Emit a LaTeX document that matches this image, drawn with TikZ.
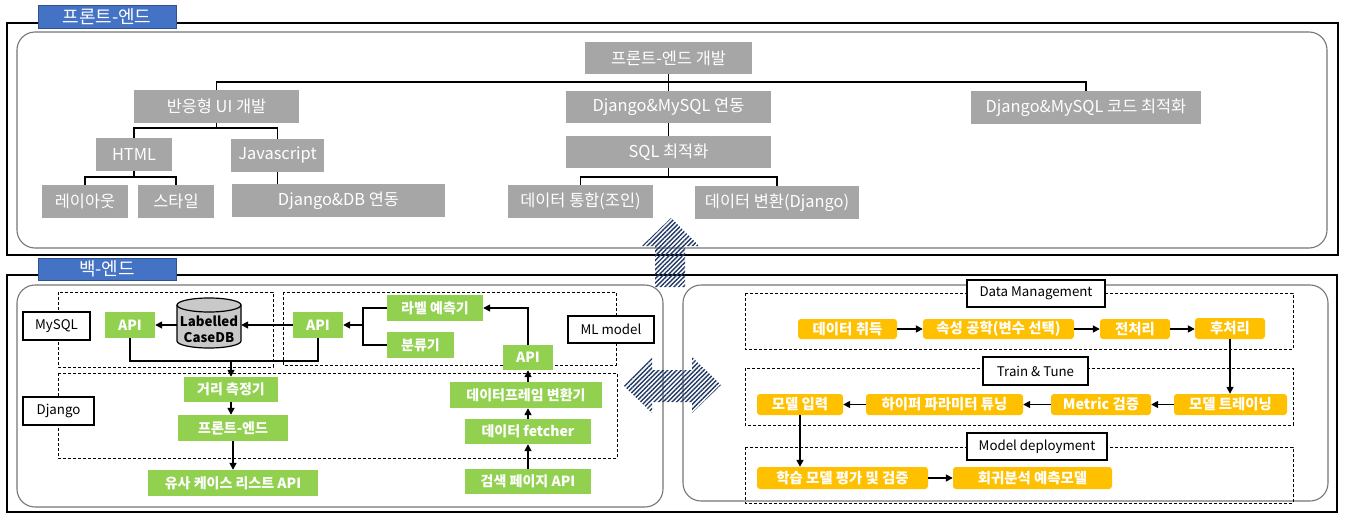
\documentclass[tikz,border=0pt]{standalone}
\usepackage{fontspec}
\setmainfont{Noto Sans CJK KR}
\usetikzlibrary{arrows.meta,patterns.meta}
\definecolor{cgray}{HTML}{A6A6A6}
\definecolor{cgreen}{HTML}{92D050}
\definecolor{corange}{HTML}{FFC000}
\definecolor{cblue}{HTML}{4472C4}
\definecolor{cblueE}{HTML}{2F528F}
\definecolor{cnavy}{HTML}{203864}
\definecolor{cdb}{HTML}{C9C9C9}
\definecolor{cpanel}{HTML}{767676}
\newcommand{\mkbox}[7]{\node[#6, minimum width={(#4)-(#2)}, minimum height={(#5)-(#3)}] (#1) at ({((#2)+(#4))/2},{((#3)+(#5))/2}) {#7};}
\begin{document}
\begin{tikzpicture}[x=1pt,y=-1pt,
  gbox/.style={fill=cgray, text=white, inner sep=0pt, font=\fontsize{16.4}{19}\selectfont},
  grn/.style={fill=cgreen, text=white, inner sep=0pt, font=\bfseries\fontsize{14}{16}\selectfont},
  org/.style={fill=corange, rounded corners=3pt, text=white, inner sep=0pt, font=\bfseries\fontsize{14.4}{16}\selectfont},
  lbl/.style={draw, line width=1.5pt, fill=white, inner sep=0pt, font=\fontsize{13.3}{16}\selectfont},
  tab/.style={fill=cblue, draw=cblueE, line width=1pt, text=white, inner sep=0pt, font=\fontsize{18}{21}\selectfont},
  conn/.style={line width=1.8pt},
  arr/.style={line width=1.6pt, -{Triangle[length=7pt,width=7pt]}},
  dsh/.style={line width=0.8pt, dash pattern=on 3pt off 2pt},
  panel/.style={draw=cpanel, line width=1.1pt, rounded corners=18pt},
  outer/.style={draw=black, line width=2.4pt},
  hatch/.style={pattern={Lines[angle=45,distance=3.2pt,line width=1.4pt]}, pattern color=cnavy}]
\fill[white] (0,0) rectangle (1347,522);
\useasboundingbox (0,0) rectangle (1347,522);

% panels
\draw[outer] (7,23) rectangle (1338,255);
\draw[panel] (17,32) rectangle (1327,248);
\draw[outer] (7,275) rectangle (1337,512);
\draw[panel] (17,285) rectangle (663,507);
\draw[panel] (683,285) rectangle (1328,501);

% top tree
\mkbox{dev}{585}{42}{752}{74}{gbox}{프론트-엔드 개발}
\mkbox{ui}{134}{90}{299}{123}{gbox}{반응형 UI 개발}
\mkbox{dm}{566}{91}{771}{123}{gbox}{Django\&MySQL 연동}
\mkbox{code}{971}{91}{1201}{124}{gbox}{Django\&MySQL 코드 최적화}
\mkbox{html}{96}{138}{172}{171}{gbox}{HTML}
\mkbox{js}{231}{139}{324}{172}{gbox}{Javascript}
\mkbox{lay}{42}{185}{128}{218}{gbox}{레이아웃}
\mkbox{sty}{138}{185}{214}{218}{gbox}{스타일}
\mkbox{djdb}{232}{184}{445}{217}{gbox}{Django\&DB 연동}
\mkbox{sql}{566}{136}{771}{168}{gbox}{SQL 최적화}
\mkbox{join}{508}{185}{653}{218}{gbox}{데이터 통합(조인)}
\mkbox{conv}{695}{186}{859}{219}{gbox}{데이터 변환(Django)}

\draw[conn] (ui.north) -- ++(0,-8) -| (code.north);
\draw[conn] (dev.south) -- (dev.south |- dm.north);
\draw[conn] (dm.south) -- (sql.north);
\draw[conn] (ui.south) -- ++(0,5);
\draw[conn] (html.north) -- ++(0,-10) -| (js.north);
\draw[conn] (html.south) -- ++(0,6);
\draw[conn] (lay.north) -- ++(0,-8) -| (sty.north);
\draw[conn] (js.south) -- (js.south |- djdb.north);
\draw[conn] (sql.south) -- ++(0,9);
\draw[conn] (join.north) -- ++(0,-8) -| (conv.north);

% bottom-left dashed groups
\draw[dsh] (58,292) rectangle (273,367);
\draw[dsh] (283,292) rectangle (616,365);
\draw[dsh] (58,373) rectangle (617,458);

% cylinder
\draw[fill=cdb, line width=1.2pt] (177,305) -- (177,341) arc[start angle=180, end angle=0, x radius=32, y radius=7] -- (241,305) arc[start angle=0, end angle=-180, x radius=32, y radius=7] -- cycle;
\draw[line width=1.2pt] (177,305) arc[start angle=180, end angle=0, x radius=32, y radius=7];
\node[minimum width=64, minimum height=50, inner sep=0pt] (db) at (209,325) {};
\node[align=center, inner sep=0pt, font=\bfseries\fontsize{13.3}{16}\selectfont] (dbt) at (209,329) {Labelled\\CaseDB};

\mkbox{apiL}{105}{312}{155}{338}{grn}{API}
\mkbox{apiR}{293}{312}{343}{338}{grn}{API}
\mkbox{lab}{387}{295}{483}{321}{grn}{라벨 예측기}
\mkbox{cls}{387}{332}{454}{358}{grn}{분류기}
\mkbox{apiM}{503}{345}{553}{370}{grn}{API}
\mkbox{dist}{184}{377}{278}{402}{grn}{거리 측정기}
\mkbox{fe}{178}{415}{288}{441}{grn}{프론트-엔드}
\mkbox{sim}{148}{470}{318}{496}{grn}{유사 케이스 리스트 API}
\mkbox{dfc}{450}{382}{602}{408}{grn}{데이터프레임 변환기}
\mkbox{fetch}{465}{419}{591}{444}{grn}{데이터 fetcher}
\mkbox{srch}{465}{469}{591}{494}{grn}{검색 페이지 API}

\mkbox{lmysql}{23}{312}{90}{340}{lbl}{MySQL}
\mkbox{ldj}{23}{397}{94}{425}{lbl}{Django}
\mkbox{lml}{568}{316}{654}{343}{lbl}{ML model}

\coordinate (brk) at (363,0);
\draw[arr] (db.west |- apiL.east) -- (apiL.east);
\draw[arr] (apiR.west) -- (db.east |- apiR.west);
\draw[conn] (lab.west) -- (lab.west -| brk) |- (cls.west);
\draw[arr] (apiR.east -| brk) -- (apiR.east);
\draw[arr] (apiM.north) |- (lab.east);
\draw[conn] (apiL.south) -- ++(0,23) -| (apiR.south);
\draw[arr] ([yshift=16pt]dist.north) -- (dist.north);
\draw[arr] (dist.south) -- (dist.south |- fe.north);
\draw[arr] (fe.south) -- (fe.south |- sim.north);
\draw[arr] (srch.north) -- (fetch.south);
\draw[arr] (fetch.north) -- (fetch.north |- dfc.south);
\draw[arr] (apiM.south |- dfc.north) -- (apiM.south);

% bottom-right
\draw[dsh] (745,293) rectangle (1293,349);
\draw[dsh] (745,368) rectangle (1293,425);
\draw[dsh] (745,447) rectangle (1293,503);
\mkbox{ldm}{967}{280}{1105}{307}{lbl}{Data Management}
\mkbox{ltt}{983}{357}{1088}{385}{lbl}{Train \& Tune}
\mkbox{lmd}{967}{433}{1107}{460}{lbl}{Model deployment}

\mkbox{acq}{798}{319}{897}{339}{org}{데이터 취득}
\mkbox{feat}{923}{319}{1074}{339}{org}{속성 공학(변수 선택)}
\mkbox{pre}{1100}{319}{1170}{339}{org}{전처리}
\mkbox{post}{1195}{318}{1265}{339}{org}{후처리}
\mkbox{train}{1174}{394}{1287}{415}{org}{모델 트레이닝}
\mkbox{metric}{1051}{394}{1151}{415}{org}{Metric 검증}
\mkbox{hyper}{866}{394}{1023}{415}{org}{하이퍼 파라미터 튜닝}
\mkbox{minp}{757}{394}{843}{415}{org}{모델 입력}
\mkbox{eval}{757}{467}{928}{489}{org}{학습 모델 평가 및 검증}
\mkbox{reg}{953}{467}{1112}{489}{org}{회귀분석 예측모델}

\draw[arr] (acq.east) -- (acq.east -| feat.west);
\draw[arr] (feat.east) -- (feat.east -| pre.west);
\draw[arr] (pre.east) -- (pre.east -| post.west);
\draw[arr] (post.south) -- (post.south |- train.north);
\draw[arr] (train.west) -- (train.west -| metric.east);
\draw[arr] (metric.west) -- (metric.west -| hyper.east);
\draw[arr] (hyper.west) -- (hyper.west -| minp.east);
\draw[arr] (minp.south) -- (minp.south |- eval.north);
\draw[arr] (eval.east) -- (eval.east -| reg.west);

% tabs
\mkbox{tabF}{38}{5}{176}{28}{tab}{프론트-엔드}
\mkbox{tabB}{38}{258}{176}{280}{tab}{백-엔드}

% hatched arrows
\fill[hatch] (671,218) -- (699,246) -- (685,246) -- (685,287) -- (655,287) -- (655,246) -- (642,246) -- cycle;
\fill[hatch] (623,385) -- (652,357) -- (652,370) -- (692,370) -- (692,357) -- (721,385) -- (692,413) -- (692,402) -- (652,402) -- (652,413) -- cycle;
\end{tikzpicture}
\end{document}
